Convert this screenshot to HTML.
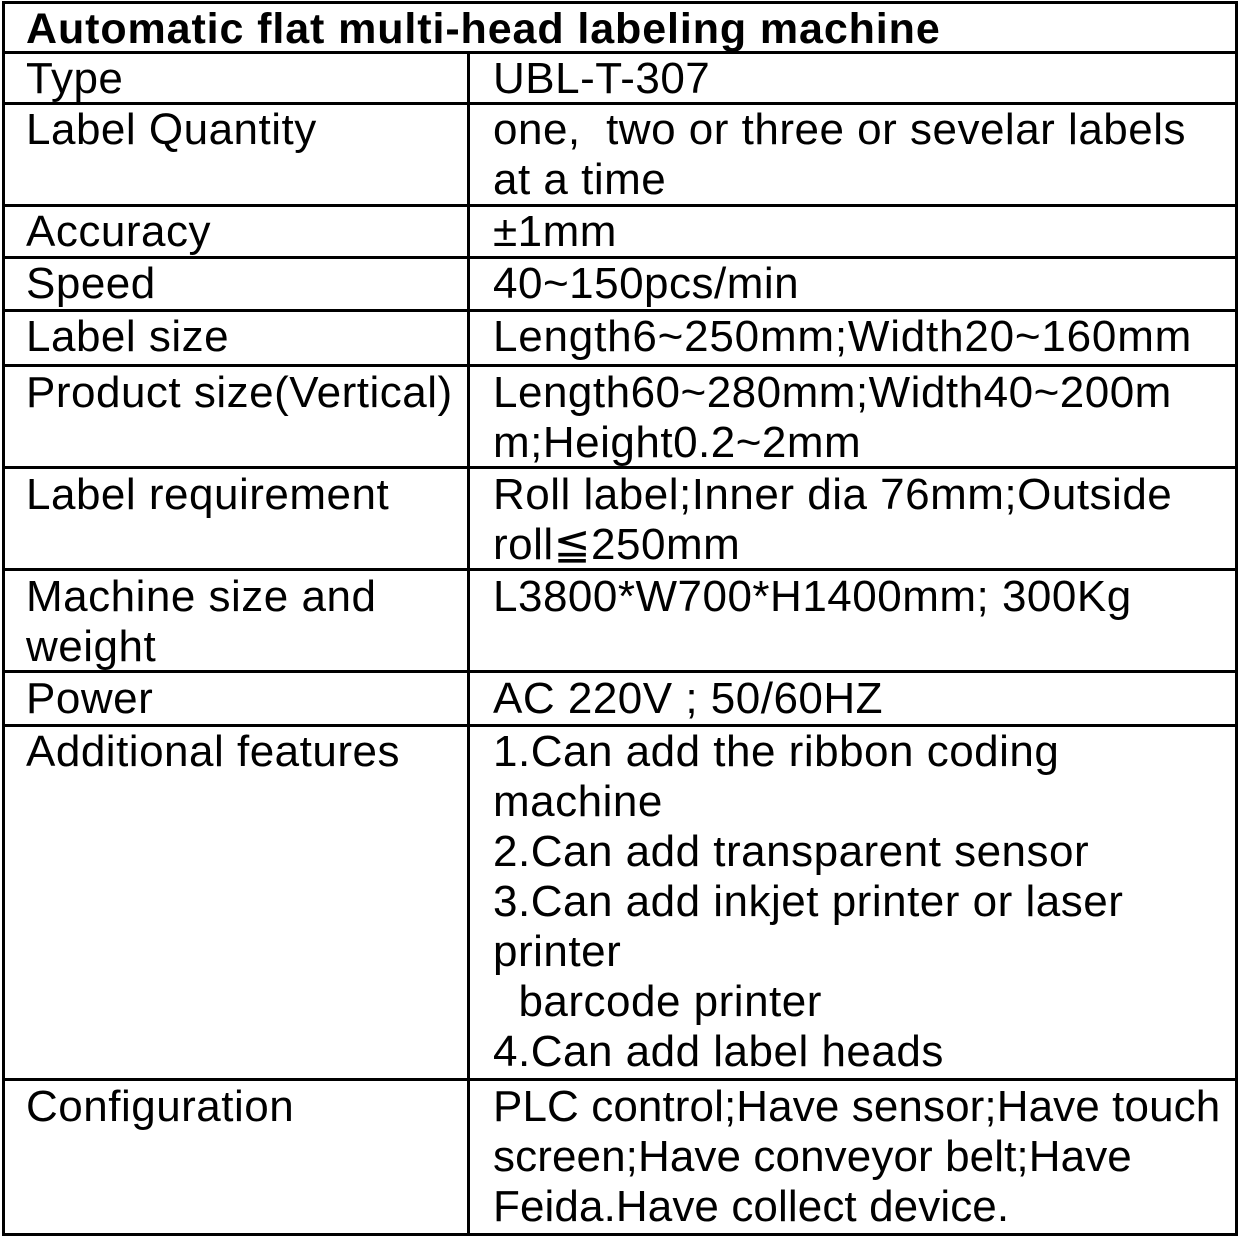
<!DOCTYPE html>
<html><head><style>
body{margin:0;background:#fff;width:1240px;height:1238px;overflow:hidden;position:relative;font-family:"Liberation Sans",sans-serif;color:#000}
.h{position:absolute;left:2px;width:1236px;height:3px;background:#000}
.v{position:absolute;width:3px;background:#000}
.t{position:absolute;font-size:44px;line-height:50px;white-space:pre;letter-spacing:0.5px}
</style></head><body>
<div class="h" style="top:1px"></div>
<div class="h" style="top:51px"></div>
<div class="h" style="top:102px"></div>
<div class="h" style="top:204px"></div>
<div class="h" style="top:256px"></div>
<div class="h" style="top:309px"></div>
<div class="h" style="top:364px"></div>
<div class="h" style="top:466px"></div>
<div class="h" style="top:568px"></div>
<div class="h" style="top:670px"></div>
<div class="h" style="top:724px"></div>
<div class="h" style="top:1078px"></div>
<div class="h" style="top:1233px"></div>
<div class="v" style="left:2px;top:1px;height:1235px"></div>
<div class="v" style="left:1235px;top:1px;height:1235px"></div>
<div class="v" style="left:467px;top:51px;height:1185px"></div>
<div class="t" style="left:26px;top:4px;font-weight:bold;font-size:43px;letter-spacing:0.9px">Automatic flat multi-head labeling machine</div>
<div class="t" style="left:26px;top:54px">Type</div>
<div class="t" style="left:26px;top:105px">Label Quantity</div>
<div class="t" style="left:26px;top:207px">Accuracy</div>
<div class="t" style="left:26px;top:259px">Speed</div>
<div class="t" style="left:26px;top:312px">Label size</div>
<div class="t" style="left:26px;top:368px">Product size(Vertical)</div>
<div class="t" style="left:26px;top:470px">Label requirement</div>
<div class="t" style="left:26px;top:572px">Machine size and
weight</div>
<div class="t" style="left:26px;top:674px">Power</div>
<div class="t" style="left:26px;top:727px">Additional features</div>
<div class="t" style="left:26px;top:1082px">Configuration</div>
<div class="t" style="left:493px;top:54px">UBL-T-307</div>
<div class="t" style="left:493px;top:105px">one,  two or three or sevelar labels
at a time</div>
<div class="t" style="left:493px;top:207px">±1mm</div>
<div class="t" style="left:493px;top:259px">40~150pcs/min</div>
<div class="t" style="left:493px;top:312px;letter-spacing:0.8px">Length6~250mm;Width20~160mm</div>
<div class="t" style="left:493px;top:368px">Length60~280mm;Width40~200m
m;Height0.2~2mm</div>
<div class="t" style="left:493px;top:470px">Roll label;Inner dia 76mm;Outside
roll≦250mm</div>
<div class="t" style="left:493px;top:572px">L3800*W700*H1400mm; 300Kg</div>
<div class="t" style="left:493px;top:674px">AC 220V ; 50/60HZ</div>
<div class="t" style="left:493px;top:727px">1.Can add the ribbon coding
machine
2.Can add transparent sensor
3.Can add inkjet printer or laser
printer
  barcode printer
4.Can add label heads</div>
<div class="t" style="left:493px;top:1082px;letter-spacing:0.1px">PLC control;Have sensor;Have touch
screen;Have conveyor belt;Have
Feida.Have collect device.</div>
</body></html>
